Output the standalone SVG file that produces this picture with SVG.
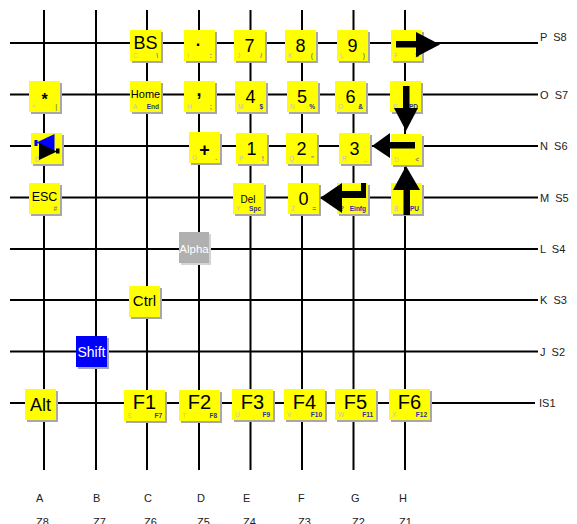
<svg xmlns="http://www.w3.org/2000/svg" width="577" height="524" viewBox="0 0 577 524">
<style>
.g{stroke:#000;stroke-width:2;fill:none}
.gh{stroke:#000;stroke-width:1.8;fill:none}
.k{fill:#ffff00}
.s{fill:#a8a8a8}
.m{font-family:"Liberation Sans",Arial,sans-serif;fill:#000;text-anchor:middle}
.d{font-size:18px}
.sl{font-family:"Liberation Sans",Arial,sans-serif;font-size:6.5px;fill:#c4c4c4}
.sr{font-family:"Liberation Sans",Arial,sans-serif;font-size:6.5px;fill:#808080;text-anchor:end;font-weight:bold}
.sb{font-family:"Liberation Sans",Arial,sans-serif;font-size:6.5px;fill:#3030a0;text-anchor:end;font-weight:bold}
.ax{font-family:"Liberation Sans",Arial,sans-serif;font-size:11px;fill:#222;white-space:pre}
.ar{fill:#000}
</style>
<rect width="577" height="524" fill="#fff"/>
<g id="grid">
<line class="gh" x1="10" y1="43" x2="538" y2="43"/>
<line class="gh" x1="10" y1="94.5" x2="538" y2="94.5"/>
<line class="gh" x1="10" y1="146" x2="538" y2="146"/>
<line class="gh" x1="10" y1="197.5" x2="538" y2="197.5"/>
<line class="gh" x1="10" y1="249" x2="538" y2="249"/>
<line class="gh" x1="10" y1="300" x2="538" y2="300"/>
<line class="gh" x1="10" y1="351.5" x2="538" y2="351.5"/>
<line class="gh" x1="10" y1="403" x2="535" y2="403"/>
<line class="g" x1="44" y1="10" x2="44" y2="470"/>
<line class="g" x1="96" y1="10" x2="96" y2="470"/>
<line class="g" x1="147" y1="10" x2="147" y2="470"/>
<line class="g" x1="199" y1="10" x2="199" y2="470"/>
<line class="g" x1="250.5" y1="10" x2="250.5" y2="470"/>
<line class="g" x1="302" y1="10" x2="302" y2="470"/>
<line class="g" x1="353.5" y1="10" x2="353.5" y2="470"/>
<line class="g" x1="405" y1="10" x2="405" y2="470"/>
</g>
<g id="axis-labels">
<text class="ax" x="540" y="41">P  S8</text>
<text class="ax" x="540" y="98.5">O  S7</text>
<text class="ax" x="540" y="150">N  S6</text>
<text class="ax" x="540" y="201.5">M  S5</text>
<text class="ax" x="540" y="253">L  S4</text>
<text class="ax" x="540" y="304">K  S3</text>
<text class="ax" x="540" y="355.5">J  S2</text>
<text class="ax" x="539" y="407">IS1</text>
<text class="ax" x="36" y="502">A</text>
<text class="ax" x="93" y="502">B</text>
<text class="ax" x="144" y="502">C</text>
<text class="ax" x="197" y="502">D</text>
<text class="ax" x="243" y="502">E</text>
<text class="ax" x="298" y="502">F</text>
<text class="ax" x="351" y="502">G</text>
<text class="ax" x="399" y="502">H</text>
<text class="ax" x="36" y="526">Z8</text>
<text class="ax" x="93" y="526">Z7</text>
<text class="ax" x="144" y="526">Z6</text>
<text class="ax" x="197" y="526">Z5</text>
<text class="ax" x="243" y="526">Z4</text>
<text class="ax" x="298" y="526">Z3</text>
<text class="ax" x="352" y="526">Z2</text>
<text class="ax" x="399" y="526">Z1</text>
</g>
<!-- Row P -->
<g id="key-bs"><rect class="s" x="132" y="32" width="31" height="31"/><rect class="k" x="130" y="30" width="31" height="31"/><text class="m" x="145.5" y="49" font-size="18">BS</text><text class="sl" x="133" y="58">C</text><text class="sr" x="158" y="58">\</text></g>
<g id="key-dot"><rect class="s" x="186" y="32" width="31" height="31"/><rect class="k" x="184" y="30" width="31" height="31"/><text class="m" x="198.5" y="50" font-size="16" font-weight="bold">·</text><text class="sl" x="187" y="58">I</text><text class="sr" x="212" y="58">:</text></g>
<g id="key-7"><rect class="s" x="236" y="32" width="31" height="31"/><rect class="k" x="234" y="30" width="31" height="31"/><text class="m d" x="249.5" y="52">7</text><text class="sl" x="237" y="58">J</text><text class="sr" x="262" y="58">/</text></g>
<g id="key-8"><rect class="s" x="287" y="32" width="31" height="31"/><rect class="k" x="285" y="30" width="31" height="31"/><text class="m d" x="300.5" y="52">8</text><text class="sl" x="288" y="58">K</text><text class="sr" x="313" y="58">(</text></g>
<g id="key-9"><rect class="s" x="339" y="32" width="31" height="31"/><rect class="k" x="337" y="30" width="31" height="31"/><text class="m d" x="352.5" y="52">9</text><text class="sl" x="340" y="58">L</text><text class="sr" x="365" y="58">)</text></g>
<!-- Row O -->
<g id="key-star"><rect class="s" x="31" y="83" width="31" height="31"/><rect class="k" x="29" y="81" width="31" height="31"/><text class="m" x="44.5" y="105" font-size="16" font-weight="bold">*</text><text class="sl" x="32" y="109">^</text><text class="sr" x="57" y="109">|</text></g>
<g id="key-home"><rect class="s" x="132" y="83" width="31" height="31"/><rect class="k" x="130" y="81" width="31" height="31"/><text class="m" x="145.5" y="98" font-size="11">Home</text><text class="sl" x="133" y="109">A</text><text class="sb" x="159" y="109">End</text></g>
<g id="key-comma"><rect class="s" x="186" y="83" width="31" height="31"/><rect class="k" x="184" y="81" width="31" height="31"/><text class="m" x="199" y="96" font-size="18" font-weight="bold">,</text><text class="sl" x="187" y="109">H</text><text class="sr" x="212" y="109">;</text></g>
<g id="key-4"><rect class="s" x="237" y="83" width="31" height="31"/><rect class="k" x="235" y="81" width="31" height="31"/><text class="m d" x="250.5" y="103">4</text><text class="sl" x="238" y="109">M</text><text class="sb" x="263" y="109">$</text></g>
<g id="key-5"><rect class="s" x="289" y="83" width="31" height="31"/><rect class="k" x="287" y="81" width="31" height="31"/><text class="m d" x="302" y="103">5</text><text class="sl" x="290" y="109">N</text><text class="sb" x="315" y="109">%</text></g>
<g id="key-6"><rect class="s" x="337" y="83" width="31" height="31"/><rect class="k" x="335" y="81" width="31" height="31"/><text class="m d" x="350.5" y="103">6</text><text class="sl" x="338" y="109">O</text><text class="sb" x="363" y="109">&amp;</text></g>
<!-- Row N -->
<g id="key-tab"><rect class="s" x="33" y="135" width="31" height="31"/><rect class="k" x="31" y="133" width="31" height="31"/><text class="sl" x="34" y="161">@</text><rect fill="#0000ff" x="34.5" y="140" width="3" height="6"/><polygon fill="#0000ff" points="36.5,142.5 54.5,134 54.5,151"/><polygon fill="#000" points="39,143 39,160 57,151.5"/><rect fill="#000" x="56" y="148.5" width="3.5" height="5"/></g>
<g id="key-plus"><rect class="s" x="191" y="134" width="31" height="31"/><rect class="k" x="189" y="132" width="31" height="31"/><text class="m" x="204.5" y="156" font-size="18" font-weight="bold">+</text><text class="sl" x="192" y="160">G</text><text class="sr" x="217" y="160">.</text></g>
<g id="key-1"><rect class="s" x="238" y="135" width="31" height="31"/><rect class="k" x="236" y="133" width="31" height="31"/><text class="m d" x="251.5" y="155">1</text><text class="sl" x="239" y="161">P</text><text class="sr" x="264" y="161">!</text></g>
<g id="key-2"><rect class="s" x="288" y="135" width="31" height="31"/><rect class="k" x="286" y="133" width="31" height="31"/><text class="m d" x="301.5" y="155">2</text><text class="sl" x="289" y="161">Q</text><text class="sr" x="314" y="161">"</text></g>
<g id="key-3"><rect class="s" x="341" y="135" width="31" height="31"/><rect class="k" x="339" y="133" width="31" height="31"/><text class="m d" x="354.5" y="155">3</text><text class="sl" x="342" y="161">R</text><text class="sr" x="367" y="161">_</text></g>
<!-- Row M -->
<g id="key-esc"><rect class="s" x="31" y="185" width="31" height="31"/><rect class="k" x="29" y="183" width="31" height="31"/><text class="m" x="44.5" y="201" font-size="12.5">ESC</text><text class="sl" x="32" y="211">'</text><text class="sr" x="57" y="211">#</text></g>
<g id="key-del"><rect class="s" x="235" y="185" width="31" height="31"/><rect class="k" x="233" y="183" width="31" height="31"/><text class="m" x="248" y="203" font-size="10">Del</text><text class="sl" x="236" y="211">Y</text><text class="sb" x="261" y="211">Spc</text></g>
<g id="key-0"><rect class="s" x="290" y="185" width="31" height="31"/><rect class="k" x="288" y="183" width="31" height="31"/><text class="m d" x="303.5" y="205">0</text><text class="sl" x="291" y="211">Z</text><text class="sr" x="316" y="211">=</text></g>
<!-- Other keys -->
<g id="key-alpha"><rect fill="#d4d4d4" x="181" y="234" width="30" height="31"/><rect fill="#b0b0b0" x="179" y="232" width="30" height="31"/><text class="m" x="194" y="253" font-size="11.5" style="fill:#fff">Alpha</text></g>
<g id="key-ctrl"><rect class="s" x="131" y="288" width="31" height="31"/><rect class="k" x="129" y="286" width="31" height="31"/><text class="m" x="144.5" y="306" font-size="15">Ctrl</text></g>
<g id="key-shift"><rect class="s" x="78" y="338" width="31" height="31"/><rect fill="#0000ff" x="76" y="336" width="31" height="31"/><text class="m" x="91.5" y="356.5" font-size="14" style="fill:#fff">Shift</text></g>
<g id="key-alt"><rect class="s" x="27" y="391" width="31" height="31"/><rect class="k" x="25" y="389" width="31" height="31"/><text class="m" x="40.5" y="411" font-size="18">Alt</text></g>
<g id="key-f1"><rect class="s" x="126" y="392" width="41" height="31"/><rect class="k" x="124" y="390" width="41" height="31"/><text class="m" x="144.5" y="409" font-size="20">F1</text><text class="sl" x="127" y="418">S</text><text class="sb" x="162" y="418">F7</text></g>
<g id="key-f2"><rect class="s" x="181" y="392" width="41" height="31"/><rect class="k" x="179" y="390" width="41" height="31"/><text class="m" x="199.5" y="409" font-size="20">F2</text><text class="sl" x="182" y="418">T</text><text class="sb" x="217" y="418">F8</text></g>
<g id="key-f3"><rect class="s" x="234" y="391" width="41" height="31"/><rect class="k" x="232" y="389" width="41" height="31"/><text class="m" x="252.5" y="408.5" font-size="20">F3</text><text class="sl" x="235" y="417">U</text><text class="sb" x="270" y="417">F9</text></g>
<g id="key-f4"><rect class="s" x="286" y="391" width="41" height="31"/><rect class="k" x="284" y="389" width="41" height="31"/><text class="m" x="304.5" y="408.5" font-size="20">F4</text><text class="sl" x="287" y="417">V</text><text class="sb" x="322" y="417">F10</text></g>
<g id="key-f5"><rect class="s" x="337" y="391" width="41" height="31"/><rect class="k" x="335" y="389" width="41" height="31"/><text class="m" x="355.5" y="408.5" font-size="20">F5</text><text class="sl" x="338" y="417">W</text><text class="sb" x="373" y="417">F11</text></g>
<g id="key-f6"><rect class="s" x="391" y="391" width="41" height="31"/><rect class="k" x="389" y="389" width="41" height="31"/><text class="m" x="409.5" y="408.5" font-size="20">F6</text><text class="sl" x="392" y="417">X</text><text class="sb" x="427" y="417">F12</text></g>
<!-- Arrow keys -->
<g id="key-right"><rect class="s" x="393" y="32" width="31" height="31"/><rect class="k" x="391" y="30" width="31" height="31"/><text class="sl" x="394" y="58">F</text><text class="sb" x="419" y="58">&gt;</text><rect class="ar" x="396" y="41" width="21" height="6.5"/><polygon class="ar" points="416,32 440,44.5 416,57"/></g>
<g id="key-down"><rect class="s" x="392" y="83" width="31" height="31"/><rect class="k" x="390" y="81" width="31" height="31"/><text class="sl" x="393" y="109">E</text><text class="sb" x="418" y="109">PD</text><rect class="ar" x="403" y="86" width="6.5" height="23"/><polygon class="ar" points="394,108 418,108 406,131"/></g>
<g id="key-left"><rect class="s" x="393" y="136" width="31" height="31"/><rect class="k" x="391" y="134" width="31" height="31"/><text class="sl" x="394" y="162">D</text><text class="sr" x="419" y="162">&lt;</text><rect class="ar" x="389" y="142" width="26" height="6.5"/><polygon class="ar" points="390,133 390,158 372,146"/></g>
<g id="key-enter"><rect class="s" x="339" y="185" width="31" height="31"/><rect class="k" x="337" y="183" width="31" height="31"/><text class="sr" x="344" y="211" style="fill:#555">?</text><text class="sb" x="366" y="211">Einfg</text><rect class="ar" x="340" y="191" width="26" height="7"/><rect class="ar" x="361" y="183" width="5" height="15"/><polygon class="ar" points="342,183 342,213 320,198"/></g>
<g id="key-up"><rect class="s" x="393" y="185" width="31" height="31"/><rect class="k" x="391" y="183" width="31" height="31"/><text class="sl" x="394" y="211">B</text><text class="sb" x="419" y="211">PU</text><rect class="ar" x="403.5" y="189" width="6.5" height="26"/><polygon class="ar" points="393,190 420,190 406,166"/></g>
</svg>
